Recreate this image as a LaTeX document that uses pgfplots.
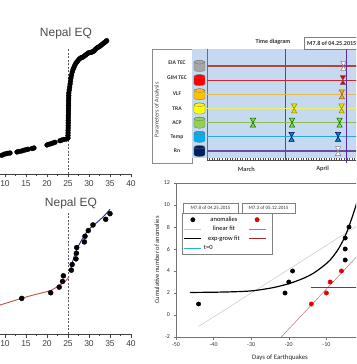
\documentclass[border=0pt]{standalone}
\usepackage{pgfplots}
\pgfplotsset{compat=1.18}
\usepackage{fontspec}
\setmainfont{Carlito}
\newfontfamily\arial{Liberation Sans}

\definecolor{tdbg}{HTML}{C5D9F1}
\definecolor{cEIA}{HTML}{B8413E}
\definecolor{cGIM}{HTML}{D02828}
\definecolor{cVLF}{HTML}{E9B949}
\definecolor{cTRA}{HTML}{F0F060}
\definecolor{cACP}{HTML}{8CC152}
\definecolor{cTMP}{HTML}{2EA7E0}
\definecolor{cRN}{HTML}{6A4C9C}
\definecolor{yGray}{HTML}{A6A6A6}
\definecolor{yRed}{HTML}{FF0000}
\definecolor{yOrange}{HTML}{FFC000}
\definecolor{yYellow}{HTML}{FFFF00}
\definecolor{yGreen}{HTML}{92D050}
\definecolor{yBlue}{HTML}{00B0F0}
\definecolor{yNavy}{HTML}{002060}
\definecolor{redfit}{HTML}{C0504D}
\definecolor{bluefit}{HTML}{1F2A8C}
\definecolor{linred}{HTML}{C07070}
\definecolor{expred}{HTML}{A02828}
\definecolor{tzero}{HTML}{30B0D0}
\definecolor{eqpurple}{HTML}{7030A0}

\pgfdeclareplotmark{hourglass}{%
  \pgfpathmoveto{\pgfqpoint{-0.6\pgfplotmarksize}{\pgfplotmarksize}}%
  \pgfpathlineto{\pgfqpoint{0.6\pgfplotmarksize}{\pgfplotmarksize}}%
  \pgfpathlineto{\pgfqpoint{-0.6\pgfplotmarksize}{-\pgfplotmarksize}}%
  \pgfpathlineto{\pgfqpoint{0.6\pgfplotmarksize}{-\pgfplotmarksize}}%
  \pgfpathclose
  \pgfusepathqfillstroke
}
\pgfdeclareplotmark{cyl}{%
  \pgfpathmoveto{\pgfqpoint{-5.5pt}{3.8pt}}%
  \pgfpathlineto{\pgfqpoint{-5.5pt}{-3.8pt}}%
  \pgfpatharc{180}{360}{5.5pt and 1.8pt}%
  \pgfpathlineto{\pgfqpoint{5.5pt}{3.8pt}}%
  \pgfpatharc{0}{180}{5.5pt and 1.8pt}%
  \pgfpathclose
  \pgfusepathqfillstroke
  \pgfpathellipse{\pgfqpoint{0pt}{3.8pt}}{\pgfqpoint{5.5pt}{0pt}}{\pgfqpoint{0pt}{1.8pt}}%
  \pgfusepathqstroke
}

\begin{document}
\begin{tikzpicture}
\path[use as bounding box] (0,0) rectangle (356pt,364pt);
\clip (0,0) rectangle (356pt,364pt);

% ---------------- Panel 1 (top left) ----------------
\begin{axis}[at={(-37pt,190pt)}, anchor=south west, scale only axis,
  width=168pt, height=154pt, xmin=0, xmax=40, ymin=0, ymax=154,
  axis x line=bottom, axis y line=none, axis line style={-, black!75},
  xtick={10,15,...,40}, minor xtick={0,2.5,...,40}, tick align=outside,
  extra x ticks={0,5}, extra x tick labels={},
  major tick length=3.5pt, minor tick length=2pt,
  tick style={black!75, line width=0.5pt},
  xticklabel style={font=\arial\fontsize{8.5}{9}\selectfont, text=black!75},
  /pgf/number format/assume math mode=true, clip=false]
\addplot[black!65, dash pattern=on 2pt off 1.5pt, line width=0.7pt] coordinates {(25,0) (25,126)};
\addplot[only marks, mark=*, mark size=2.4pt, black] coordinates {
(9.21,18.7)(9.76,19.7)(10.24,20.3)(10.71,20.7)(11.19,21)
(12.86,22)(13.33,22.5)(13.98,23)
(14.52,23.7)(15.0,24.3)(15.48,24.7)
(16.43,25.5)(16.9,26)
(20.0,29)(20.48,29.7)(20.95,30.3)(21.43,31)(21.9,31.7)
(23.1,33.3)(23.57,34)(24.05,34.5)(24.64,35)
(25.0,36)(25.0,38.5)(25.02,41)(25.02,43.5)(25.04,46)(25.04,48.5)(25.06,51)(25.06,53.5)
(25.08,56)(25.08,58.5)(25.1,61)(25.1,63.5)(25.12,66)(25.12,68.5)(25.14,71)(25.14,73.5)
(25.16,76)(25.18,78.5)(25.2,81)(25.3,84)(25.4,87)(25.5,90)(25.6,93)(25.7,96)(25.85,99)
(26.0,102)(26.2,104.5)(26.4,106.5)(26.6,108.5)(26.85,110.5)(27.1,112)(27.4,113.5)(27.7,115)
(28.0,116)(28.3,116.5)(28.6,117)(28.9,118)(29.2,119)(29.5,120)(29.8,121)(30.1,121.3)
(30.4,121.6)(30.7,122)(31.0,122.5)(31.3,123.5)(31.6,125)(31.9,126)(32.2,126.8)(32.5,127.5)
(32.8,128.5)(33.1,129.5)(33.4,130.5)(33.7,131.5)(34.0,132.5)(34.2,133.3)};
\end{axis}
\node[font=\arial\fontsize{12}{12}\selectfont, text=black!70] at (66pt,331pt) {Nepal EQ};

% ---------------- Panel 2 (bottom left) ----------------
\begin{axis}[at={(-37pt,30pt)}, anchor=south west, scale only axis,
  width=168pt, height=154pt, xmin=0, xmax=40, ymin=-0.3, ymax=26.96,
  axis x line=bottom, axis y line=none, axis line style={-, black!75},
  xtick={10,15,...,40}, minor xtick={0,2.5,...,40}, tick align=outside,
  extra x ticks={0,5}, extra x tick labels={},
  major tick length=3.5pt, minor tick length=2pt,
  tick style={black!75, line width=0.5pt},
  xticklabel style={font=\arial\fontsize{8.5}{9}\selectfont, text=black!75},
  /pgf/number format/assume math mode=true, clip=false]
\addplot[black!65, dash pattern=on 2pt off 1.5pt, line width=0.7pt] coordinates {(25,-0.3) (25,21.1)};
\addplot[redfit, line width=0.9pt, smooth] coordinates {
(8.81,4.83)(13.98,6.02)(16.74,6.6)(20.71,7.36)(22.69,8.19)(24.29,8.96)(25.24,9.84)};
\addplot[bluefit, line width=0.9pt, smooth] coordinates {
(25.71,11.33)(26.43,13.38)(27.21,14.87)(28.26,16.33)(29.83,18.1)(31.83,19.4)(33.4,20.46)(35.0,21.77)};
\addplot[only marks, mark=*, mark size=2.5pt, black] coordinates {
(13.98,6)(20.88,7)(22.9,8)(23.7,9)(23.9,10)(25.8,11)(26.0,12)(26.9,13)(27.0,14)(27.07,15)
(28.9,16)(29.05,17)(29.83,18)(30.95,19)(33.98,20)(35.0,21)};
\end{axis}
\node[font=\arial\fontsize{12}{12}\selectfont, text=black!70] at (71pt,161pt) {Nepal EQ};

% ---------------- Panel 3 (time diagram) ----------------
\draw[black!45, fill=white, line width=0.5pt] (152pt,201pt) rectangle (192pt,315pt);
\node[rotate=90, font=\fontsize{6}{6}\selectfont, text=black!75] at (157pt,254pt) {Parameters of Analysis};
\begin{scope}[every node/.style={font=\bfseries\fontsize{5.6}{6}\selectfont, text=black!80}]
\node at (177pt,301pt) {EIA TEC};
\node at (177pt,286pt) {GIM TEC};
\node at (177pt,270pt) {VLF};
\node at (177pt,255pt) {TRA};
\node at (177pt,241pt) {ACP};
\node at (177pt,227pt) {Temp};
\node at (177pt,213pt) {Rn};
\end{scope}
\begin{axis}[at={(192pt,204pt)}, anchor=south west, scale only axis,
  width=167.4pt, height=111pt, xmin=-5.9, xmax=60, ymin=0.365, ymax=8.2,
  axis x line=bottom, axis y line=none, axis line style={draw=none},
  xtick={10,20,31,41,51}, minor xtick={0,...,60}, xticklabels={},
  tick align=inside, major tick length=4pt, minor tick length=1.5pt,
  tick style={black!70, line width=0.4pt}, clip=false]
\addplot[fill=tdbg, draw=none] coordinates {(-5.9,0.5) (60,0.5) (60,8.2) (-5.9,8.2)} -- cycle;
\addplot[black!70, line width=0.4pt] coordinates {(0,0.365) (60,0.365)};
\addplot[blue!50!black!60, line width=0.5pt] coordinates {(0,0.5) (0,8.2)};
\addplot[blue!40!black!70, line width=0.5pt] coordinates {(31,0.3) (31,8.2)};
\addplot[cEIA, line width=1.1pt] coordinates {(0,7) (60,7)};
\addplot[cGIM, line width=1.1pt] coordinates {(0,6) (60,6)};
\addplot[cVLF, line width=1.1pt] coordinates {(0,5) (60,5)};
\addplot[cTRA, line width=1.1pt] coordinates {(0,4) (60,4)};
\addplot[cACP, line width=1.1pt] coordinates {(0,3) (60,3)};
\addplot[cTMP, line width=1.1pt] coordinates {(0,2) (60,2)};
\addplot[cRN, line width=1.1pt] coordinates {(0,1) (60,1)};
\addplot[eqpurple!80!blue, line width=1.4pt] coordinates {(55,0.15) (55,8.2)};
\addplot[only marks, mark=cyl, mark options={fill=yGray, draw=black!55, line width=0.3pt}] coordinates {(-2.95,7)};
\addplot[only marks, mark=cyl, mark options={fill=yRed, draw=black!55, line width=0.3pt}] coordinates {(-2.95,6)};
\addplot[only marks, mark=cyl, mark options={fill=yOrange, draw=black!55, line width=0.3pt}] coordinates {(-2.95,5)};
\addplot[only marks, mark=cyl, mark options={fill=yYellow, draw=black!55, line width=0.3pt}] coordinates {(-2.95,4)};
\addplot[only marks, mark=cyl, mark options={fill=yGreen, draw=black!55, line width=0.3pt}] coordinates {(-2.95,3)};
\addplot[only marks, mark=cyl, mark options={fill=yBlue, draw=black!55, line width=0.3pt}] coordinates {(-2.95,2)};
\addplot[only marks, mark=cyl, mark options={fill=yNavy, draw=black!55, line width=0.3pt}] coordinates {(-2.95,1)};
\addplot[only marks, mark=hourglass, mark size=4.5pt, mark options={fill=white, draw=black!50, line width=0.5pt}] coordinates {(53.7,7)};
\addplot[only marks, mark=hourglass, mark size=4.5pt, mark options={fill=yRed!85!black, draw=black!60, line width=0.5pt}] coordinates {(53.5,6)};
\addplot[only marks, mark=hourglass, mark size=4.5pt, mark options={fill=yOrange!90!red, draw=black!60, line width=0.5pt}] coordinates {(53.1,5)};
\addplot[only marks, mark=hourglass, mark size=4.5pt, mark options={fill=yYellow!90!black, draw=olive, line width=0.5pt}] coordinates {(34.3,4) (53.0,4)};
\addplot[only marks, mark=hourglass, mark size=4.5pt, mark options={fill=yGreen, draw=green!40!black, line width=0.5pt}] coordinates {(18.1,3) (33.5,3) (52.2,3)};
\addplot[only marks, mark=hourglass, mark size=4.5pt, mark options={fill=yBlue!80!black, draw=blue!40!black, line width=0.5pt}] coordinates {(33.3,2) (51.6,2)};
\addplot[only marks, mark=hourglass, mark size=4.5pt, mark options={fill=white, draw=black!50, line width=0.5pt}] coordinates {(51.6,1)};
\node[font=\bfseries\fontsize{6.3}{7}\selectfont, text=black!75] at (axis cs:15.5,0.365) [yshift=-9pt] {March};
\node[font=\bfseries\fontsize{6.3}{7}\selectfont, text=black!75] at (axis cs:45.5,0.365) [yshift=-9pt] {April};
\end{axis}
\node[font=\bfseries\fontsize{6.1}{7}\selectfont, text=black!80] at (273pt,322pt) {Time diagram};
\node[draw=black!50, fill=white, anchor=west, font=\bfseries\fontsize{6.1}{7}\selectfont, text=black!80, minimum height=12pt, inner xsep=3pt] at (304pt,321pt) {M7.8 of 04.25.2015};

% ---------------- Panel 4 (bottom right) ----------------
\begin{axis}[at={(176pt,27pt)}, anchor=south west, scale only axis,
  width=188pt, height=154pt, xmin=-50, xmax=0, ymin=-2, ymax=12,
  xtick={-50,-40,...,-10}, extra x ticks={0}, extra x tick labels={},
  ytick={-2,0,...,12}, tick align=outside, tick pos=left,
  major tick length=2.5pt, axis line style={black!55}, tick style={black!55, line width=0.5pt},
  ticklabel style={font=\fontsize{6}{6}\selectfont, text=black!80},
  /pgf/number format/assume math mode=true,
  xlabel={Days of Earthquakes}, ylabel={Cumulative number of anomalies},
  xlabel style={at={(axis description cs:0.553,-0.136)}, anchor=center, font=\fontsize{6.8}{7}\selectfont, text=black!85},
  ylabel style={at={(axis description cs:-0.101,0.5)}, anchor=center, font=\fontsize{6.5}{7}\selectfont, text=black!85},
  legend columns=2, legend cell align=left,
  legend style={at={(rel axis cs:0.032,0.805)}, anchor=north west, draw=black!50,
    font=\fontsize{6.5}{7}\selectfont, inner sep=1.5pt, row sep=-0.5pt,
    /tikz/every even column/.append style={column sep=2pt}},
  clip=false]
\addplot[gray!45, line width=0.5pt, forget plot] coordinates {(-44,-1.04) (0,8.49)};
\addplot[linred, line width=0.5pt, forget plot] coordinates {(-22,-2) (0,6.0)};
\addplot[black, line width=1.2pt, smooth, forget plot] coordinates {
(-46.3,2.05)(-40,2.07)(-34,2.12)(-29.4,2.21)(-24,2.5)(-19.7,2.88)(-16,3.35)(-13.5,3.79)(-11,4.4)(-9,5.0)(-7,5.9)(-5.5,6.82)(-4.5,7.6)(-3.7,8.34)(-2.1,10.0)(-1,11.5)};
\addplot[expred, line width=1.2pt, forget plot] coordinates {(-14,2.52) (0,2.52)};
\addplot[tzero, line width=1.2pt, forget plot] coordinates {(0,-2) (0,12)};
\addplot[only marks, mark=*, mark size=2.2pt, black, forget plot] coordinates {
(-44,1)(-21,2)(-20,3)(-19,4)(-5,5)(-5,6)(-5,7)(-4,8)};
\addplot[only marks, mark=*, mark size=2.2pt, red!90!black, forget plot] coordinates {
(-14,1)(-10,2)(-9,3)(-6,4)};
\addlegendimage{only marks, mark=*, mark size=2.2pt, black}
\addlegendentry{\makebox[40pt]{anomalies}}
\addlegendimage{only marks, mark=*, mark size=2.2pt, red!90!black}
\addlegendentry{}
\addlegendimage{gray!45, line width=0.5pt}
\addlegendentry{\makebox[40pt]{linear fit}}
\addlegendimage{linred, line width=0.5pt}
\addlegendentry{}
\addlegendimage{black, line width=1.2pt}
\addlegendentry{\makebox[40pt]{exp-grow fit}}
\addlegendimage{expred, line width=1.2pt}
\addlegendentry{}
\addlegendimage{tzero, line width=1.2pt}
\addlegendentry{\makebox[40pt][l]{t=0}}
\end{axis}
\node[draw=black!50, fill=white, font=\fontsize{5}{5}\selectfont, text=black!80, minimum width=55pt, minimum height=10pt, inner sep=1pt] at (210.5pt,156pt) {M7.8 of 04.25.2015};
\node[draw=black!50, fill=white, font=\fontsize{5}{5}\selectfont, text=black!80, minimum width=53pt, minimum height=10pt, inner sep=1pt] at (268.5pt,156pt) {M7.3 of 05.12.2015};
\end{tikzpicture}
\end{document}
